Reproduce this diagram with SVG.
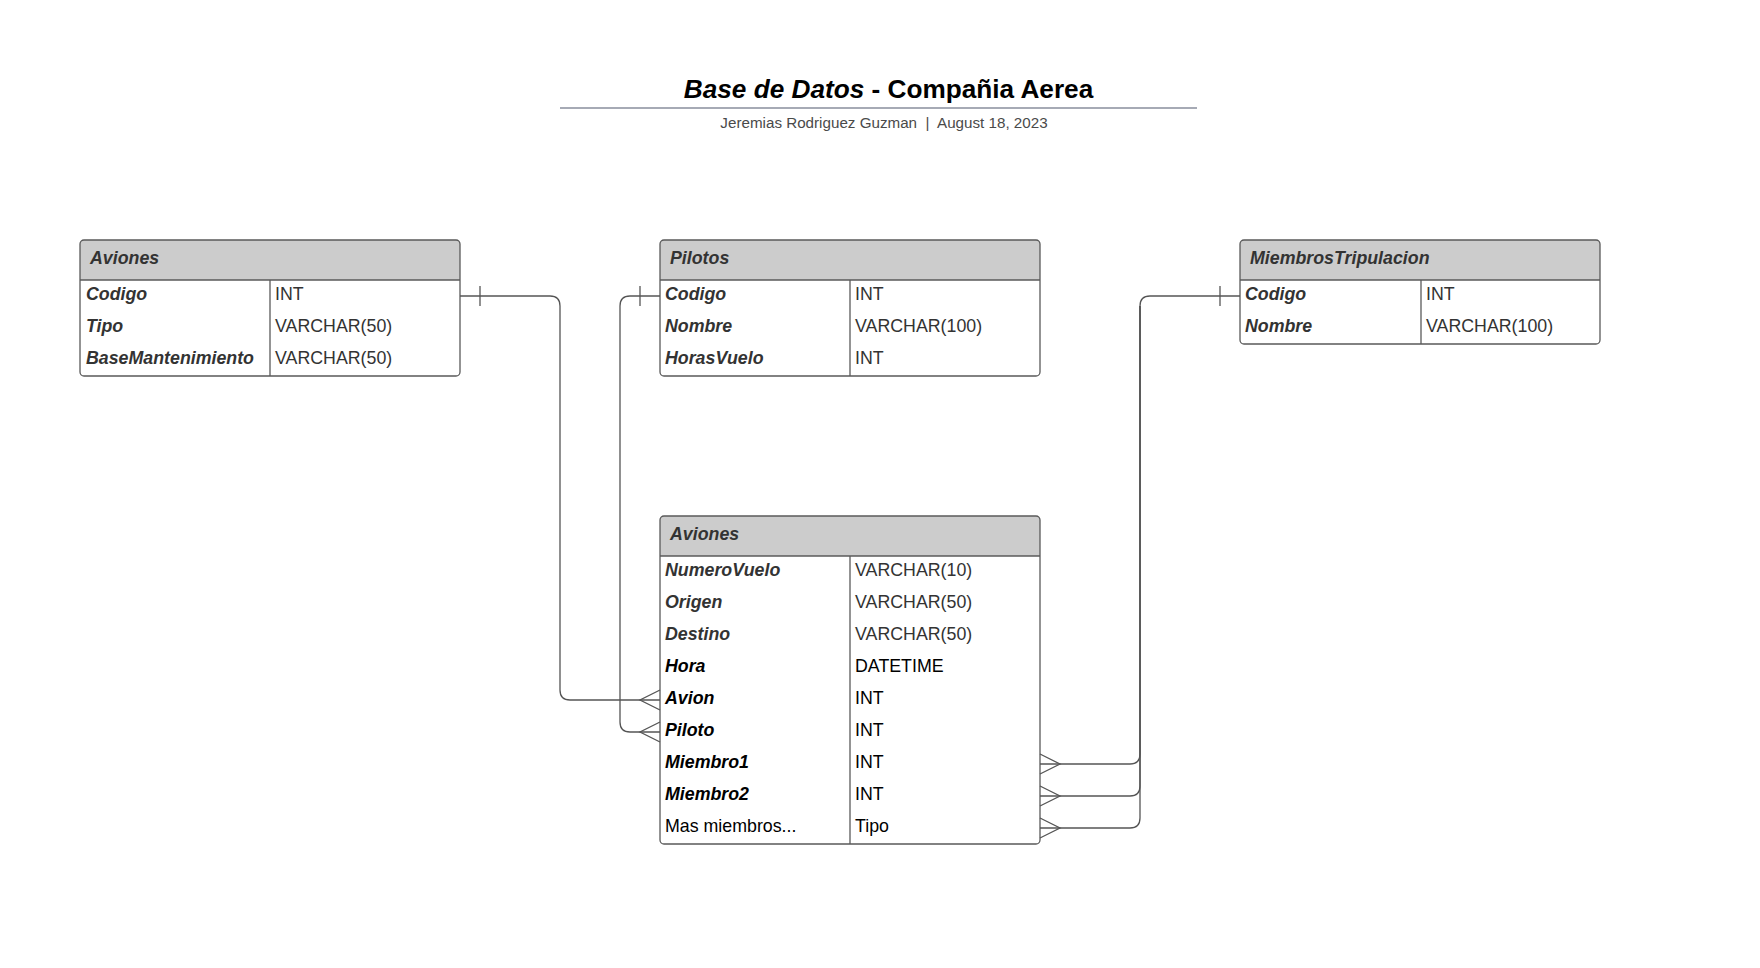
<svg xmlns="http://www.w3.org/2000/svg" width="1760" height="968" viewBox="0 0 1760 968">
<style>
text{font-family:"Liberation Sans",Arial,sans-serif;font-size:17.8px}
.hdr{fill:#cccccc}
.box{fill:none;stroke:#5a5a5a;stroke-width:1.3}
.sep{stroke:#5a5a5a;stroke-width:1.3}
.th{font-weight:bold;font-style:italic;fill:#333}
.fk{font-weight:bold;font-style:italic;fill:#333}
.fb{font-weight:bold;font-style:italic;fill:#000}
.ty{fill:#333}
.tb{fill:#000}
.conn{fill:none;stroke:#555;stroke-width:1.3}
</style>
<rect width="1760" height="968" fill="#ffffff"/>
<g id="title">
<text x="888.5" y="98" text-anchor="middle" style="font-size:26.2px;font-weight:bold;fill:#000"><tspan font-style="italic">Base de Datos</tspan> - Compañia Aerea</text>
<line x1="560" y1="108" x2="1197" y2="108" stroke="#a6aab5" stroke-width="2"/>
<text x="884" y="128" text-anchor="middle" xml:space="preserve" style="font-size:15.2px;fill:#4a4a4a">Jeremias Rodriguez Guzman  |  August 18, 2023</text>
</g>
<g id="aviones1">
<path class="hdr" d="M80,280 V244 Q80,240 84,240 H456 Q460,240 460,244 V280 Z"/>
<rect class="box" x="80" y="240" width="380" height="136" rx="4"/>
<line class="sep" x1="80" y1="280" x2="460" y2="280"/>
<line class="sep" x1="270" y1="280" x2="270" y2="376"/>
<text class="th" x="90" y="264">Aviones</text>
<text class="fk" x="86" y="300">Codigo</text><text class="ty" x="275" y="300">INT</text>
<text class="fk" x="86" y="332">Tipo</text><text class="ty" x="275" y="332">VARCHAR(50)</text>
<text class="fk" x="86" y="364">BaseMantenimiento</text><text class="ty" x="275" y="364">VARCHAR(50)</text>
</g>
<g id="pilotos">
<path class="hdr" d="M660,280 V244 Q660,240 664,240 H1036 Q1040,240 1040,244 V280 Z"/>
<rect class="box" x="660" y="240" width="380" height="136" rx="4"/>
<line class="sep" x1="660" y1="280" x2="1040" y2="280"/>
<line class="sep" x1="850" y1="280" x2="850" y2="376"/>
<text class="th" x="670" y="264">Pilotos</text>
<text class="fk" x="665" y="300">Codigo</text><text class="ty" x="855" y="300">INT</text>
<text class="fk" x="665" y="332">Nombre</text><text class="ty" x="855" y="332">VARCHAR(100)</text>
<text class="fk" x="665" y="364">HorasVuelo</text><text class="ty" x="855" y="364">INT</text>
</g>
<g id="miembrosTripulacion">
<path class="hdr" d="M1240,280 V244 Q1240,240 1244,240 H1596 Q1600,240 1600,244 V280 Z"/>
<rect class="box" x="1240" y="240" width="360" height="104" rx="4"/>
<line class="sep" x1="1240" y1="280" x2="1600" y2="280"/>
<line class="sep" x1="1421" y1="280" x2="1421" y2="344"/>
<text class="th" x="1250" y="264">MiembrosTripulacion</text>
<text class="fk" x="1245" y="300">Codigo</text><text class="ty" x="1426" y="300">INT</text>
<text class="fk" x="1245" y="332">Nombre</text><text class="ty" x="1426" y="332">VARCHAR(100)</text>
</g>
<g id="aviones2">
<path class="hdr" d="M660,556 V520 Q660,516 664,516 H1036 Q1040,516 1040,520 V556 Z"/>
<rect class="box" x="660" y="516" width="380" height="328" rx="4"/>
<line class="sep" x1="660" y1="556" x2="1040" y2="556"/>
<line class="sep" x1="850" y1="556" x2="850" y2="844"/>
<text class="th" x="670" y="540">Aviones</text>
<text class="fk" x="665" y="576">NumeroVuelo</text><text class="ty" x="855" y="576">VARCHAR(10)</text>
<text class="fk" x="665" y="608">Origen</text><text class="ty" x="855" y="608">VARCHAR(50)</text>
<text class="fk" x="665" y="640">Destino</text><text class="ty" x="855" y="640">VARCHAR(50)</text>
<text class="fb" x="665" y="672">Hora</text><text class="tb" x="855" y="672">DATETIME</text>
<text class="fb" x="665" y="704">Avion</text><text class="tb" x="855" y="704">INT</text>
<text class="fb" x="665" y="736">Piloto</text><text class="tb" x="855" y="736">INT</text>
<text class="fb" x="665" y="768">Miembro1</text><text class="tb" x="855" y="768">INT</text>
<text class="fb" x="665" y="800">Miembro2</text><text class="tb" x="855" y="800">INT</text>
<text class="tb" x="665" y="832">Mas miembros...</text><text class="tb" x="855" y="832">Tipo</text>
</g>
<g id="connectors">
<path class="conn" d="M460,296 H550 Q560,296 560,306 V690 Q560,700 570,700 H660"/>
<path class="conn" d="M480,286 V306"/>
<path class="conn" d="M660,690 L640,700 L660,710"/>
<path class="conn" d="M660,296 H630 Q620,296 620,306 V722 Q620,732 630,732 H660"/>
<path class="conn" d="M640,286 V306"/>
<path class="conn" d="M660,722 L640,732 L660,742"/>
<path class="conn" d="M1240,296 H1150 Q1140,296 1140,306 V754 Q1140,764 1130,764 H1040"/>
<path class="conn" d="M1140,306 V786 Q1140,796 1130,796 H1040"/>
<path class="conn" d="M1140,306 V818 Q1140,828 1130,828 H1040"/>
<path class="conn" d="M1220,286 V306"/>
<path class="conn" d="M1040,754 L1060,764 L1040,774"/>
<path class="conn" d="M1040,786 L1060,796 L1040,806"/>
<path class="conn" d="M1040,818 L1060,828 L1040,838"/>
</g>
</svg>
